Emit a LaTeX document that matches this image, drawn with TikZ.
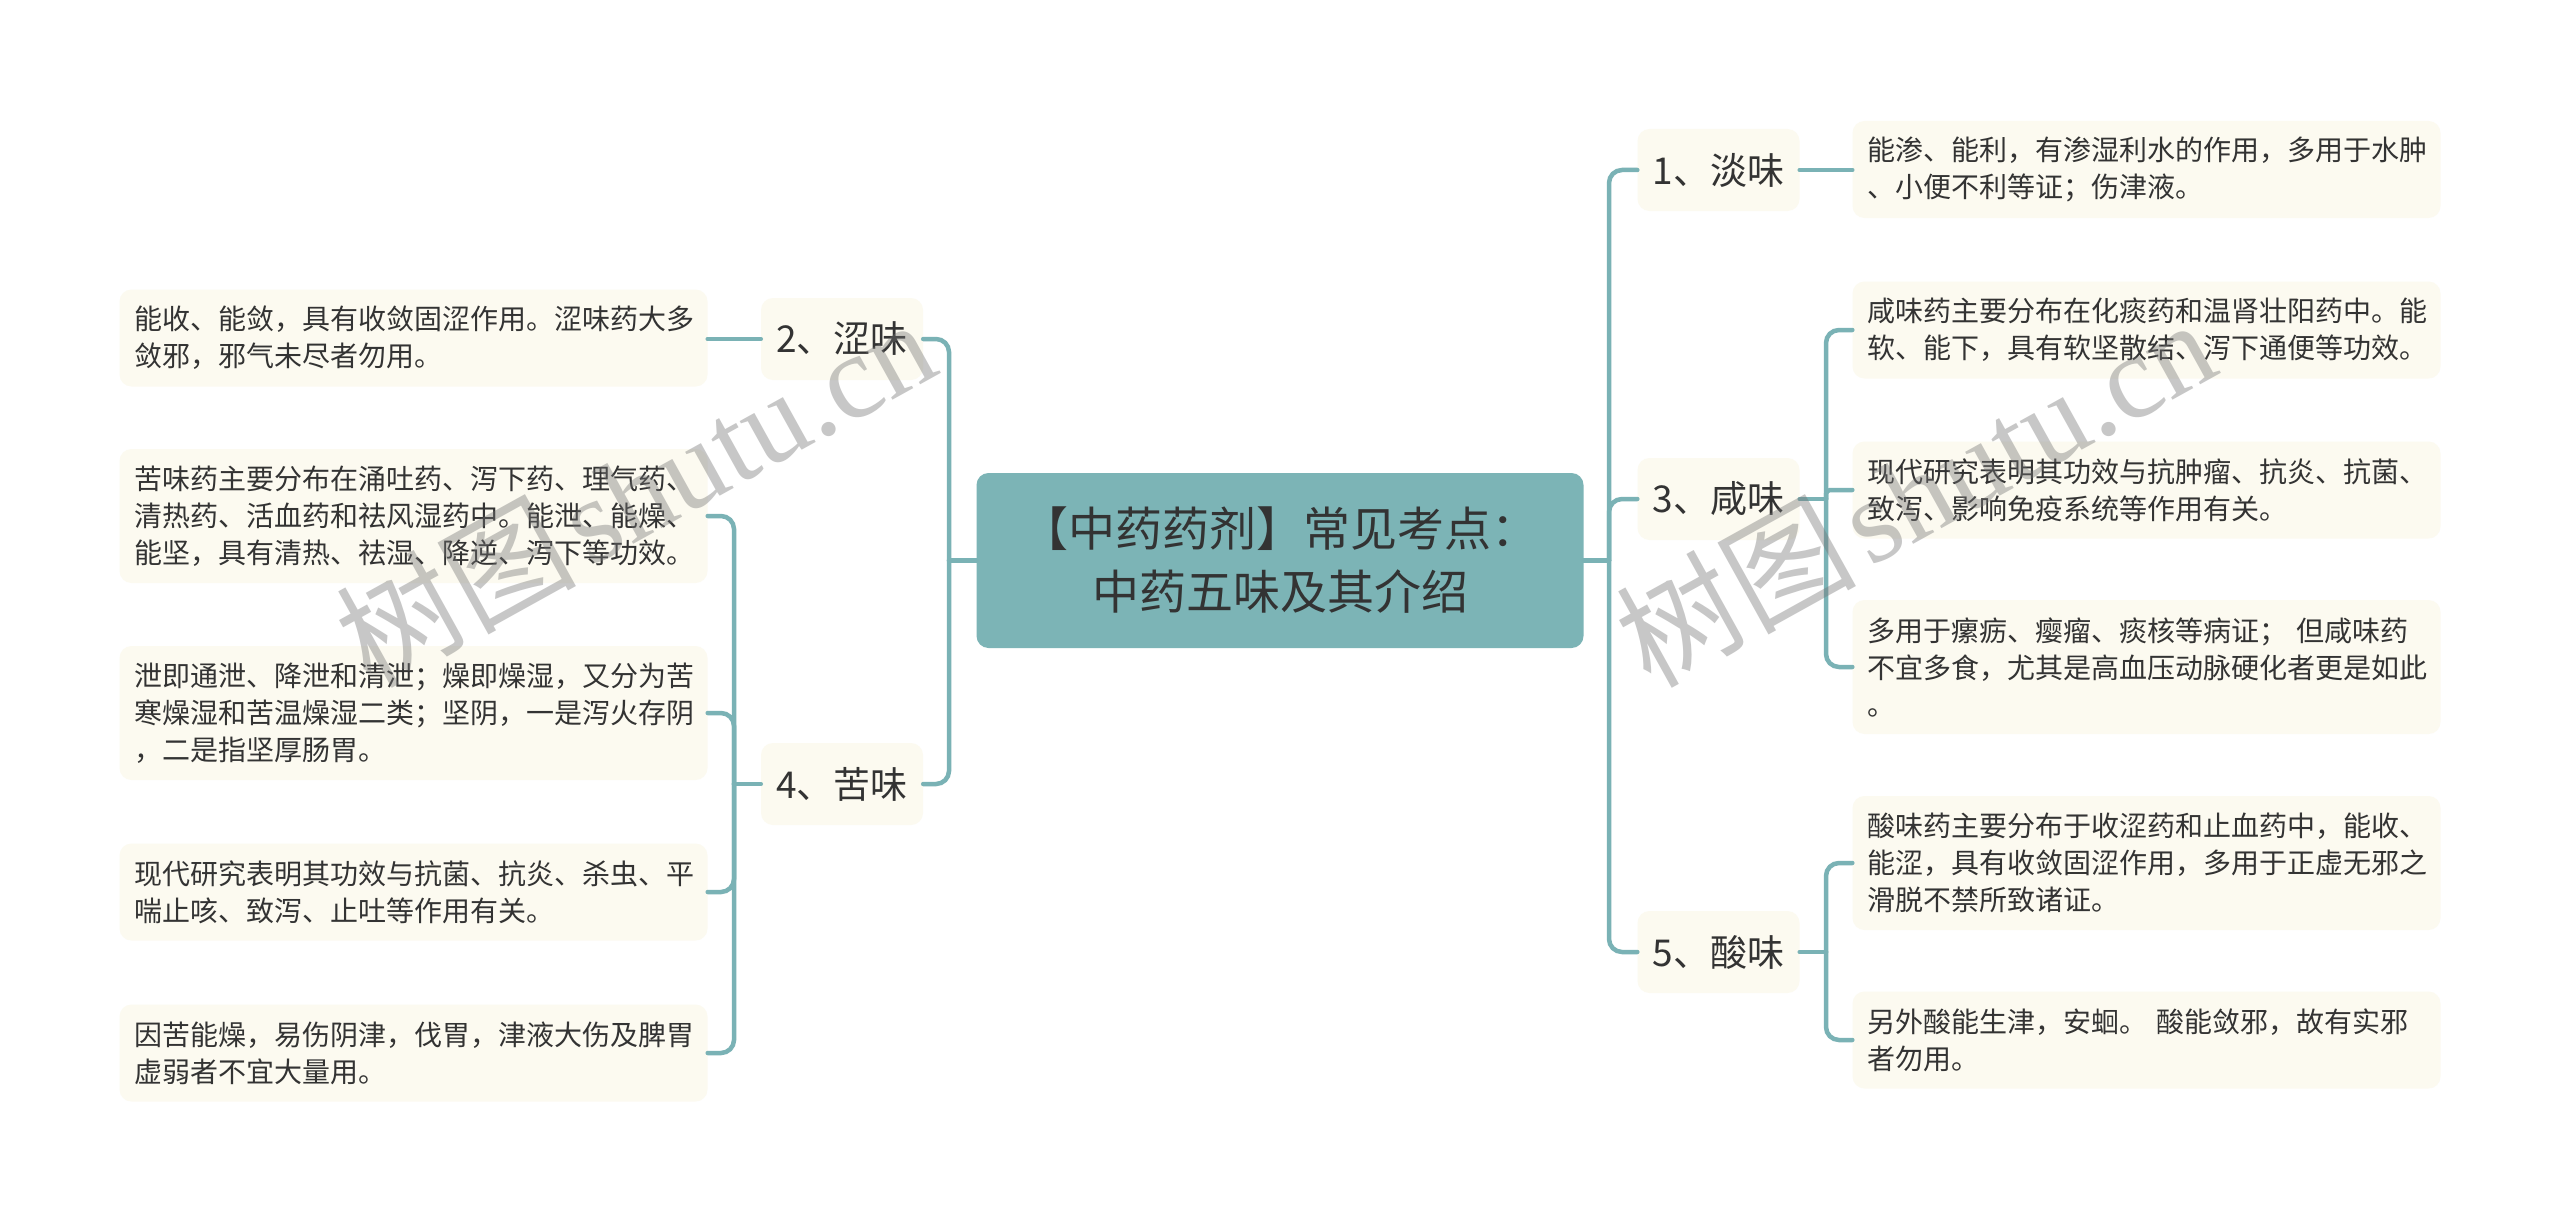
\documentclass[tikz,border=0pt]{standalone}
\usepackage{fontspec}
\setmainfont{Noto Sans CJK SC}
\newfontfamily\wmlatin{Liberation Serif}
\usetikzlibrary{calc}
\definecolor{tealfill}{HTML}{7CB4B6}
\definecolor{linecol}{HTML}{7AB2B5}
\definecolor{cream}{HTML}{FCFAF0}
\definecolor{txt}{HTML}{333333}
\tikzset{
 rootbox/.style={fill=tealfill, rounded corners=12pt, minimum width=607pt, minimum height=175pt, align=center, text=txt, font=\fontsize{47}{63}\selectfont, inner sep=0pt},
 topicbox/.style={fill=cream, rounded corners=12pt, minimum width=162pt, minimum height=82pt, text=txt, font=\fontsize{37}{44}\selectfont, inner sep=0pt},
 leafbox/.style={fill=cream, rounded corners=12pt, text width=558pt, inner xsep=15pt, inner ysep=0pt, align=left, text=txt, font=\fontsize{28}{37}\selectfont},
 twoline/.style={minimum height=97pt},
 threeline/.style={minimum height=134pt},
 conn/.style={draw=linecol, line width=4.5pt, rounded corners=13pt, line cap=round},
 wmark/.style={text=black!55, opacity=0.4, rotate=29, anchor=base west, inner sep=0pt, font=\fontsize{120}{120}\selectfont}
}
\begin{document}
\begin{tikzpicture}[x=1pt,y=-1pt]
\useasboundingbox (0,0) rectangle (2560,1220);
\fill[white] (0,0) rectangle (2560,1220);
% root
\node[rootbox] (root) at (1280,560.5) {【中药药剂】常见考点：\\中药五味及其介绍};
% topics
\node[topicbox] (n1) at (1718.5,170) {1、淡味};
\node[topicbox] (n3) at (1718.5,499) {3、咸味};
\node[topicbox] (n5) at (1718.5,952) {5、酸味};
\node[topicbox] (n2) at (842,339) {2、涩味};
\node[topicbox] (n4) at (842,784) {4、苦味};
% right leaves
\node[leafbox,twoline] (r1) at (2146.5,169.5) {能渗、能利，有渗湿利水的作用，多用于水肿\\、小便不利等证；伤津液。};
\node[leafbox,twoline] (r31) at (2146.5,330) {咸味药主要分布在化痰药和温肾壮阳药中。能\\软、能下，具有软坚散结、泻下通便等功效。};
\node[leafbox,twoline] (r32) at (2146.5,490) {现代研究表明其功效与抗肿瘤、抗炎、抗菌、\\致泻、影响免疫系统等作用有关。};
\node[leafbox,threeline] (r33) at (2146.5,667) {多用于瘰疬、瘿瘤、痰核等病证； 但咸味药\\不宜多食，尤其是高血压动脉硬化者更是如此\\。};
\node[leafbox,threeline] (r51) at (2146.5,863) {酸味药主要分布于收涩药和止血药中，能收、\\能涩，具有收敛固涩作用，多用于正虚无邪之\\滑脱不禁所致诸证。};
\node[leafbox,twoline] (r52) at (2146.5,1040) {另外酸能生津，安蛔。 酸能敛邪，故有实邪\\者勿用。};
% left leaves
\node[leafbox,twoline] (l2) at (413.5,338) {能收、能敛，具有收敛固涩作用。涩味药大多\\敛邪，邪气未尽者勿用。};
\node[leafbox,threeline] (l41) at (413.5,516) {苦味药主要分布在涌吐药、泻下药、理气药、\\清热药、活血药和祛风湿药中。能泄、能燥、\\能坚，具有清热、祛湿、降逆、泻下等功效。};
\node[leafbox,threeline] (l42) at (413.5,713) {泄即通泄、降泄和清泄；燥即燥湿，又分为苦\\寒燥湿和苦温燥湿二类；坚阴，一是泻火存阴\\，二是指坚厚肠胃。};
\node[leafbox,twoline] (l43) at (413.5,892) {现代研究表明其功效与抗菌、抗炎、杀虫、平\\喘止咳、致泻、止吐等作用有关。};
\node[leafbox,twoline] (l44) at (413.5,1053) {因苦能燥，易伤阴津，伐胃，津液大伤及脾胃\\虚弱者不宜大量用。};
% junction coordinates
\coordinate (rt) at (1609,560.5);
\coordinate (lt) at (949,560.5);
\coordinate (b3) at (1826,499);
\coordinate (b5) at (1826,952);
\coordinate (b4) at (734,784);
% connectors
\draw[conn] (root.east) -- (rt);
\foreach \n in {n1,n3,n5} \draw[conn] (rt) -- (rt |- \n.west) -- (\n.west);
\draw[conn] (root.west) -- (lt);
\foreach \n in {n2,n4} \draw[conn] (lt) -- (lt |- \n.east) -- (\n.east);
\draw[conn] (n1.east) -- (n1.east -| r1.west);
\draw[conn] (n2.west) -- (n2.west -| l2.east);
\draw[conn] (n3.east) -- (b3);
\foreach \l in {r31,r33} \draw[conn] (b3) -- (b3 |- \l.west) -- (\l.west);
\draw[conn, rounded corners=4pt] (b3) -- (b3 |- r32.west) -- (r32.west);
\draw[conn] (n5.east) -- (b5);
\foreach \l in {r51,r52} \draw[conn] (b5) -- (b5 |- \l.west) -- (\l.west);
\draw[conn] (n4.west) -- (b4);
\foreach \l in {l41,l42,l43,l44} \draw[conn] (b4) -- (b4 |- \l.east) -- (\l.east);
% watermarks
\node[wmark] (wmL) at (370,690) {树图\hspace{12pt}{\wmlatin shutu.cn}};
\node[wmark] (wmR) at (1650,690) {树图\hspace{12pt}{\wmlatin shutu.cn}};
\end{tikzpicture}
\end{document}
